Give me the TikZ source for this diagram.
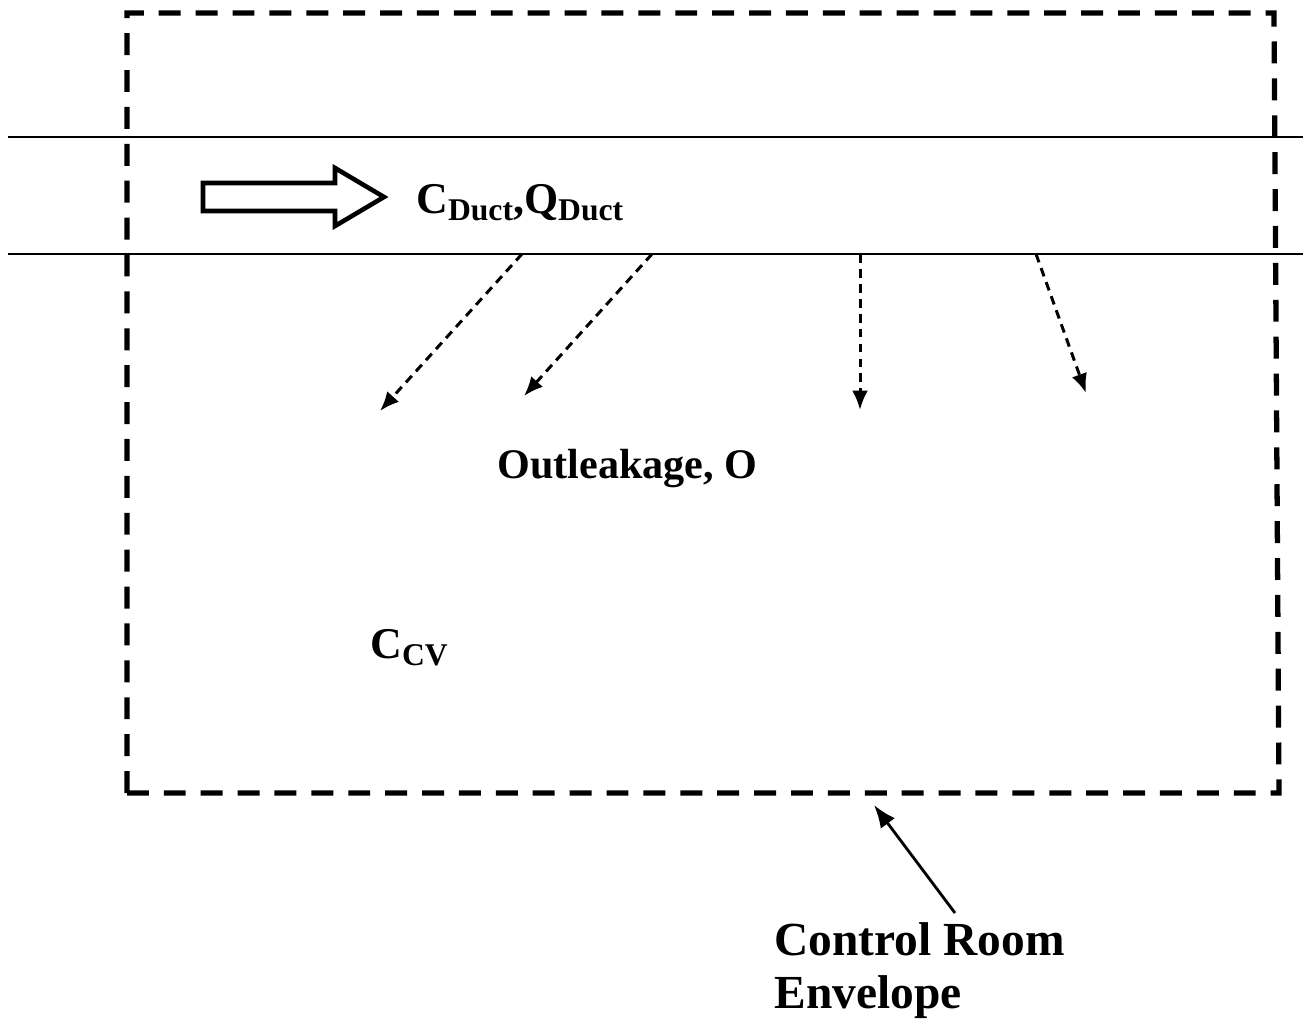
\documentclass[tikz,border=0pt]{standalone}
\usepackage{fontspec}
\setmainfont{Liberation Serif}
\usetikzlibrary{arrows.meta}

\newcommand{\lowsub}[1]{\raisebox{-0.16em}{\fontsize{18}{18}\selectfont #1}}

\begin{document}
\begin{tikzpicture}[x=0.02cm,y=-0.02cm]
				\tikzstyle{every node}=[inner sep=0pt,font=\bfseries]
				\tikzstyle{envelope}=[line width=3pt,dash pattern=on 12.5pt off 8.5pt]
				\tikzstyle{duct}=[line width=1pt]
				\tikzstyle{leak}=[line width=1.7pt,dash pattern=on 5pt off 3.5pt,
				-{Latex[length=11pt,width=9pt]}]
				\tikzstyle{pointer}=[line width=1.6pt,-{Latex[length=13pt,width=10pt]}]
				\useasboundingbox (0,0) rectangle (1311,1022);
				% control room envelope
				\coordinate (nw) at (127,13);
				\coordinate (ne) at (1274,13);
				\coordinate (se) at (1279,793);
				\coordinate (sw) at (127,793);
				\draw[envelope] (sw) -- (nw) -- (ne) -- (se) -- cycle;
				% duct walls
				\coordinate (top l) at (8,137);
				\coordinate (top r) at (1303,137);
				\coordinate (bot l) at (8,254);
				\coordinate (bot r) at (1303,254);
				\draw[duct] (top l) -- (top r);
				\draw[duct] (bot l) -- (bot r);
				% flow in the duct
				\draw[line width=2.6pt,line join=miter] (203,183) -- (335,183) -- (335,168)
				-- (384,197) -- (335,226) -- (335,211) -- (203,211) -- cycle;
				\node[anchor=base west] (duct) at (416,213)
				{\fontsize{25}{25}\selectfont C\lowsub{Duct},Q\lowsub{Duct}};
				% outleakage
				\coordinate (s1) at (522,254);
				\coordinate (s2) at (652,254);
				\coordinate (s3) at (860,254);
				\coordinate (s4) at (1036,254);
				\coordinate (e1) at (380,411);
				\coordinate (e2) at (524,396);
				\coordinate (e3) at (860,410);
				\coordinate (e4) at (1086,393);
				\draw[leak] (s1) -- (e1);
				\draw[leak] (s2) -- (e2);
				\draw[leak] (s3) -- (e3);
				\draw[leak] (s4) -- (e4);
				\node[anchor=base west] (out) at (497,478)
				{\fontsize{24}{24}\selectfont Outleakage, O};
				\node[anchor=base west] (ccv) at (370,658)
				{\fontsize{25}{25}\selectfont C\lowsub{CV}};
				% label
				\node[anchor=base west,align=left,
				font=\bfseries\fontsize{27}{30}\selectfont] (room) at (774,1008)
				{Control Room\\Envelope};
				\coordinate (tail) at (955,913);
				\coordinate (head) at (874,805);
				\draw[pointer] (tail) -- (head);
\end{tikzpicture}
\end{document}
